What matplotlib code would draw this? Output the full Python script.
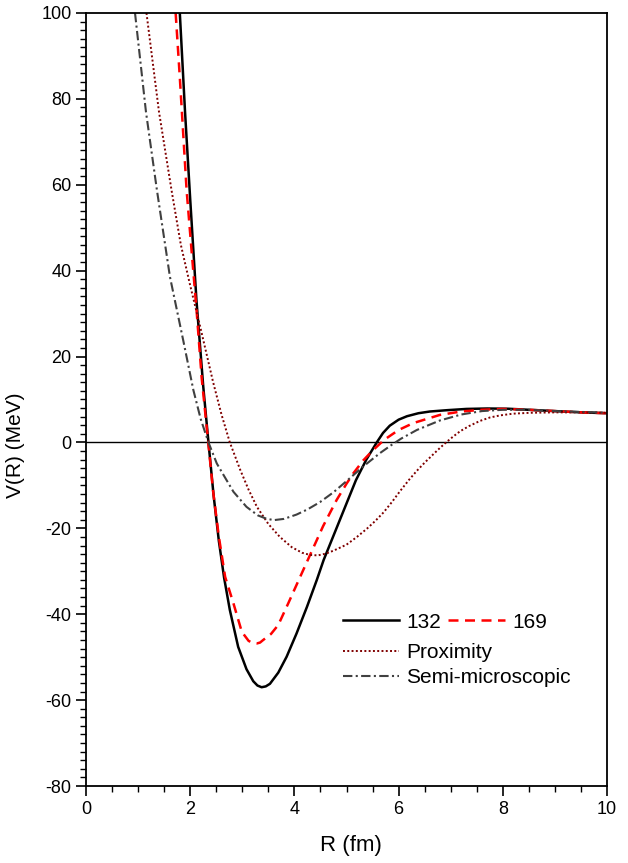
import matplotlib
matplotlib.use("Agg")
import matplotlib.pyplot as plt
from matplotlib.ticker import MultipleLocator

plt.rcParams['font.family'] = ['Liberation Sans', 'DejaVu Sans']
plt.rcParams['axes.unicode_minus'] = False

# 132 (solid black)
x132 = [1.80, 1.90, 2.00, 2.12, 2.25, 2.35, 2.45, 2.55, 2.65, 2.76, 2.92, 3.08, 3.21, 3.29, 3.37,
        3.45, 3.53, 3.69, 3.85, 4.04, 4.24, 4.43, 4.56, 4.80, 5.00, 5.18, 5.38, 5.58, 5.70, 5.83,
        6.00, 6.16, 6.38, 6.60, 6.92, 7.3, 7.7, 8.1, 8.5, 9.0, 9.5, 10.0]
y132 = [100, 77, 56.5, 33, 13, 0, -12.5, -23, -31.5, -39.0, -47.6, -52.8, -55.6, -56.6, -57.0,
        -56.8, -56.2, -53.6, -49.9, -44.5, -38.3, -32.0, -27.4, -20.2, -14.2, -8.8, -4.0, 0, 2.2, 3.9,
        5.3, 6.1, 6.8, 7.2, 7.5, 7.8, 7.9, 7.85, 7.6, 7.3, 7.0, 6.8]

# 169 (red dashed)
x169 = [1.72, 1.80, 1.93, 2.03, 2.12, 2.22, 2.35, 2.44, 2.55, 2.67, 2.83, 2.99, 3.12, 3.20, 3.28,
        3.34, 3.40, 3.55, 3.69, 3.88, 4.11, 4.30, 4.55, 4.81, 5.00, 5.13, 5.32, 5.50, 5.65, 5.77,
        6.00, 6.28, 6.79, 7.2, 7.6, 8.0, 8.5, 9.0, 9.5, 10.0]
y169 = [100, 85, 58.8, 44, 31, 15, -0.5, -11.5, -22, -31.3, -37.5, -44.1, -46.2, -46.7, -46.8,
        -46.6, -46.0, -44.6, -42.5, -37.5, -31.3, -26.2, -19.5, -13.4, -9.6, -7.2, -4.2, -1.9, -0.2, 1.0,
        2.9, 4.5, 6.4, 7.2, 7.6, 7.8, 7.6, 7.3, 7.0, 6.8]

# Proximity
xprox = [1.16, 1.40, 1.64, 1.82, 2.00, 2.19, 2.44, 2.60, 2.76, 2.96, 3.12, 3.28, 3.50, 3.72,
         3.95, 4.15, 4.30, 4.45, 4.60, 4.75, 5.00, 5.20, 5.39, 5.55, 5.71, 5.87, 6.03, 6.20,
         6.35, 6.50, 6.67, 6.80, 6.92, 7.05, 7.18, 7.35, 7.56, 7.75, 7.95, 8.2, 8.52, 9.0,
         9.5, 10.0]
yprox = [100, 77, 58.8, 46, 36.5, 27, 14, 6.5, 0, -6.4, -11.0, -15.0, -19.0, -22.0,
         -24.4, -25.7, -26.2, -26.3, -25.9, -25.2, -23.8, -22.0, -20.1, -18.3, -16.3, -13.9, -11.3, -8.7,
         -6.6, -4.7, -2.7, -1.2, 0.1, 1.4, 2.6, 3.8, 5.0, 5.8, 6.3, 6.7, 6.9, 7.0,
         7.0, 6.9]

# Semi-microscopic
xsemi = [0.94, 1.15, 1.36, 1.61, 1.87, 2.06, 2.20, 2.35, 2.51, 2.64, 2.83, 3.08, 3.30, 3.45,
         3.60, 3.80, 4.04, 4.25, 4.49, 4.75, 5.00, 5.32, 5.64, 5.85, 6.05, 6.35, 6.79, 7.2,
         7.6, 8.0, 8.5, 9.0, 9.5, 10.0]
ysemi = [100, 77, 58.8, 38.6, 23.5, 12.2, 5.5, 0, -4.9, -7.6, -11.5, -15.0, -17.0, -17.7,
         -18.1, -17.8, -16.8, -15.6, -13.9, -11.6, -9.0, -5.6, -2.5, -0.7, 0.9, 2.9, 5.1, 6.5,
         7.3, 7.6, 7.6, 7.3, 7.1, 6.9]

fig = plt.figure(figsize=(6.28, 8.63), dpi=100)
ax = fig.add_axes([0.137, 0.0892, 0.8296, 0.8958])

ax.axhline(0, color='black', lw=1.0, zorder=1)
l1, = ax.plot(x132, y132, color='black', lw=1.8, label='132')
l2, = ax.plot(x169, y169, color='#ff0000', lw=1.8, dashes=(4, 2.6), label='169')
l3, = ax.plot(xprox, yprox, color='#800000', lw=1.4, dashes=(1, 1.2), label='Proximity')
l4, = ax.plot(xsemi, ysemi, color='#404040', lw=1.5, dashes=(4.5, 1.6, 1, 1.6), label='Semi-microscopic')

ax.set_xlim(0, 10)
ax.set_ylim(-80, 100)
ax.xaxis.set_major_locator(MultipleLocator(2))
ax.xaxis.set_minor_locator(MultipleLocator(0.5))
ax.yaxis.set_major_locator(MultipleLocator(20))
ax.yaxis.set_minor_locator(MultipleLocator(2))
ax.tick_params(which='major', direction='out', length=7, width=1.2, labelsize=13, colors='black')
ax.tick_params(which='minor', direction='out', length=4, width=1.0)
for s in ax.spines.values():
    s.set_linewidth(1.3)

ax.set_xlabel("R (fm)", fontsize=16)
ax.set_ylabel("V(R) (MeV)", fontsize=15)
ax.xaxis.set_label_coords(0.508, -0.064)
ax.yaxis.set_label_coords(-0.117, 0.441)

leg1 = ax.legend(handles=[l1, l2], ncol=2, loc='center left', bbox_to_anchor=(0.546, 1 - 622 / 863),
                 bbox_transform=fig.transFigure, frameon=False, fontsize=15, handlelength=2.7,
                 handletextpad=0.35, columnspacing=0.35, borderpad=0, borderaxespad=0)
ax.add_artist(leg1)
ax.legend(handles=[l3, l4], loc='center left', bbox_to_anchor=(0.546, 1 - 665 / 863),
          bbox_transform=fig.transFigure, frameon=False, fontsize=15, handlelength=2.7,
          handletextpad=0.35, labelspacing=0.3, borderpad=0, borderaxespad=0)

fig.savefig("out.png", dpi=100)
